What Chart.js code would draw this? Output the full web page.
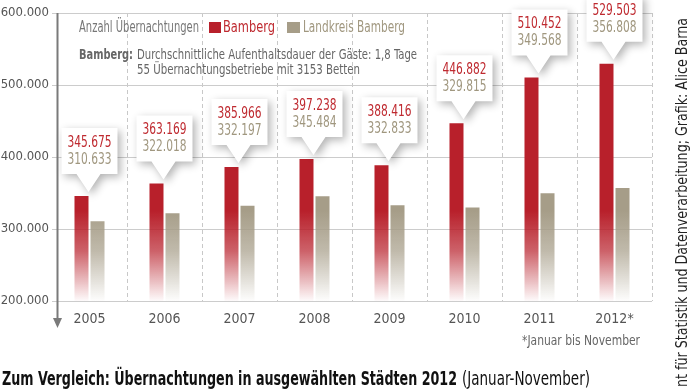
<!DOCTYPE html>
<html lang="de">
<head>
    <meta charset="UTF-8">
    <title>Übernachtungen Bamberg</title>
    <style>
        body { margin: 0; background: #fff; }
        #wrap { width: 691px; height: 389px; position: relative; }
    </style>
</head>
<body>

<div id="wrap"><canvas id="chart" width="691" height="389"></canvas></div>

<script src="https://cdn.jsdelivr.net/npm/chart.js@4.4.1/dist/chart.umd.min.js"></script>
<script>
    // data
    var years = ['2005', '2006', '2007', '2008', '2009', '2010', '2011', '2012*'];
    var bamberg = [345675, 363169, 385966, 397238, 388416, 446882, 510452, 529503];
    var landkreis = [310633, 322018, 332197, 345484, 332833, 329815, 349568, 356808];
    var yTicks = [200000, 300000, 400000, 500000, 600000];
    var seriesNames = ['Bamberg', 'Landkreis Bamberg'];

    var legendTitle = 'Anzahl Übernachtungen';
    var noteBold = 'Bamberg:';
    var noteLines = ['Durchschnittliche Aufenthaltsdauer der Gäste: 1,8 Tage',
                     '55 Übernachtungsbetriebe mit 3153 Betten'];
    var footnote = '*Januar bis November';
    var titleBold = 'Zum Vergleich: Übernachtungen in ausgewählten Städten 2012';
    var titleRest = '(Januar-November)';
    var source = 'nt für Statistik und Datenverarbeitung; Grafik: Alice Barna';

    var RED = '#b8202b', GRAY = '#a69d88';
    var RED_TXT = '#bf2a30', GRAY_TXT = '#a0977f';
    var NARROW = '"Liberation Sans Narrow", "DejaVu Sans Condensed", "Arial Narrow", sans-serif';

    function fmt(v) {
        return String(v).replace(/\B(?=(\d{3})+(?!\d))/g, '.');
    }

    // draw text squeezed to a given width (left or centered)
    function fitText(ctx, txt, x, y, w, font, color, center) {
        ctx.save();
        ctx.font = font;
        ctx.fillStyle = color;
        ctx.textAlign = 'left';
        ctx.textBaseline = 'middle';
        var m = ctx.measureText(txt).width;
        ctx.translate(center ? x - w / 2 : x, y);
        ctx.scale(w / m, 1);
        ctx.fillText(txt, 0, 0);
        ctx.restore();
    }

    function fade(hex) {
        return function(c) {
            var chart = c.chart;
            if (!chart.chartArea) return hex;
            var y = chart.scales.y;
            var g = chart.ctx.createLinearGradient(0, y.getPixelForValue(325000), 0, y.getPixelForValue(200000));
            var r = parseInt(hex.slice(1, 3), 16), gg = parseInt(hex.slice(3, 5), 16), b = parseInt(hex.slice(5, 7), 16);
            var rgb = 'rgba(' + r + ',' + gg + ',' + b + ',';
            g.addColorStop(0, rgb + '1)');
            g.addColorStop(0.45, rgb + '0.7)');
            g.addColorStop(1, rgb + '0.02)');
            return g;
        };
    }

    var callouts = {
        id: 'callouts',
        afterDatasetsDraw: function(chart) {
            var ctx = chart.ctx;
            var xs = chart.scales.x;
            var red = chart.getDatasetMeta(0).data;
            red.forEach(function(bar, i) {
                var cx = xs.getPixelForValue(i);
                var top = bar.y;
                var L = cx - 28, R = cx + 28, T = top - 68, B = top - 22;
                ctx.save();
                ctx.shadowColor = 'rgba(0,0,0,0.3)';
                ctx.shadowBlur = 8;
                ctx.shadowOffsetX = 3;
                ctx.shadowOffsetY = 3;
                ctx.fillStyle = '#fff';
                ctx.beginPath();
                ctx.moveTo(L, T);
                ctx.lineTo(R, T);
                ctx.lineTo(R, B);
                ctx.lineTo(cx + 11, B);
                ctx.lineTo(cx - 1, top - 4);
                ctx.lineTo(cx - 13, B);
                ctx.lineTo(L, B);
                ctx.closePath();
                ctx.fill();
                ctx.restore();

                fitText(ctx, fmt(bamberg[i]), cx, top - 53, 44, '15px ' + NARROW, RED_TXT, true);
                fitText(ctx, fmt(landkreis[i]), cx, top - 36, 44, '15px ' + NARROW, GRAY_TXT, true);
            });
        },
        afterDraw: function(chart) {
            var ctx = chart.ctx;
            var area = chart.chartArea;

            // y axis with arrow
            ctx.save();
            ctx.strokeStyle = '#7a7a7a';
            ctx.fillStyle = '#7a7a7a';
            ctx.lineWidth = 2;
            ctx.beginPath();
            ctx.moveTo(57.5, area.top);
            ctx.lineTo(57.5, 320);
            ctx.stroke();
            ctx.beginPath();
            ctx.moveTo(53, 318);
            ctx.lineTo(62, 318);
            ctx.lineTo(57.5, 328);
            ctx.closePath();
            ctx.fill();
            ctx.restore();

            // legend
            fitText(ctx, legendTitle, 79, 28, 120, '15px ' + NARROW, '#777');
            ctx.fillStyle = RED;
            ctx.fillRect(209, 22, 12, 11);
            fitText(ctx, seriesNames[0], 223, 28, 52, '15px ' + NARROW, RED_TXT);
            ctx.fillStyle = GRAY;
            ctx.fillRect(287, 22, 13, 11);
            fitText(ctx, seriesNames[1], 303, 28, 102, '15px ' + NARROW, GRAY_TXT);

            // note
            fitText(ctx, noteBold, 79, 55, 54, 'bold 14px ' + NARROW, '#666');
            fitText(ctx, noteLines[0], 137, 55, 280, '14px ' + NARROW, '#666');
            fitText(ctx, noteLines[1], 137, 70, 223, '14px ' + NARROW, '#666');

            // footnote + title
            fitText(ctx, footnote, 522, 341, 118, '14px ' + NARROW, '#666');
            fitText(ctx, titleBold, 2, 380, 455, 'bold 19px ' + NARROW, '#111');
            fitText(ctx, titleRest, 462, 380, 128, '19px ' + NARROW, '#111');

            // source, vertical
            ctx.save();
            ctx.translate(683, 387);
            ctx.rotate(-Math.PI / 2);
            fitText(ctx, source, 0, 0, 369, '15px ' + NARROW, '#222');
            ctx.restore();
        }
    };

    new Chart(document.getElementById('chart'), {
        type: 'bar',
        data: {
            labels: years,
            datasets: [
                { label: seriesNames[0], data: bamberg, backgroundColor: fade(RED) },
                { label: seriesNames[1], data: landkreis, backgroundColor: fade(GRAY) }
            ]
        },
        options: {
            responsive: false,
            animation: false,
            devicePixelRatio: 1,
            datasets: { bar: { categoryPercentage: 0.427, barPercentage: 0.875 } },
            layout: { padding: { top: 13, right: 39, bottom: 0, left: 0 } },
            plugins: { legend: { display: false }, tooltip: { enabled: false }, title: { display: false } },
            scales: {
                x: {
                    grid: {
                        drawTicks: false,
                        color: function(c) { return c.index === 0 ? 'rgba(0,0,0,0)' : '#c8c8c8'; }
                    },
                    border: { display: false, dash: [4, 3] },
                    ticks: { color: '#555', padding: 10, font: { family: NARROW, size: 14 } },
                    afterFit: function(s) { s.height = 88; }
                },
                y: {
                    min: yTicks[0],
                    max: yTicks[yTicks.length - 1],
                    grid: { drawTicks: false, color: '#cccccc' },
                    border: { display: false },
                    ticks: {
                        stepSize: yTicks[1] - yTicks[0],
                        color: '#555',
                        padding: 3,
                        font: { family: NARROW, size: 13 },
                        callback: function(v) { return fmt(v); }
                    },
                    afterFit: function(s) { s.width = 52; }
                }
            }
        },
        plugins: [callouts]
    });
</script>

</body>
</html>
